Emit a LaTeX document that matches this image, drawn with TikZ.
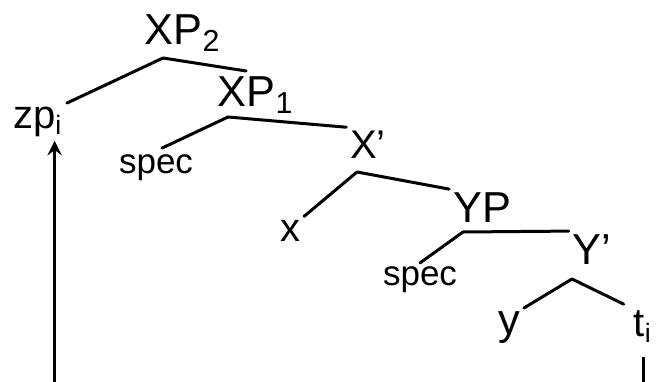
\documentclass[tikz,border=0pt]{standalone}
\usepackage{fontspec}
\setmainfont{Liberation Sans}
\usepackage{tikz}
\usetikzlibrary{arrows, positioning}

\tikzset{
  big/.style={inner sep=1pt, font=\fontsize{13}{15}\selectfont},
  lab/.style={inner sep=1pt, font=\fontsize{12}{14}\selectfont},
  small/.style={inner sep=1pt, font=\fontsize{10.5}{12}\selectfont},
  branch/.style={line width=0.9pt, line cap=round},
  move/.style={line width=0.9pt, -stealth}
}

\begin{document}
\begin{tikzpicture}[x=0.3pt,y=-0.3pt]
        \useasboundingbox (0,0) rectangle (667,382);

        % labels
        \node[big] (xp2) at (183,33) {XP\textsubscript{2}};
        \node[lab] (zp) at (38,122) {zp\textsubscript{i}};
        \node[big] (xp1) at (256,95) {XP\textsubscript{1}};
        \node[small] (spec1) at (156,168) {spec};
        \node[lab] (xbar) at (368,145) {X'};
        \node[lab] (x) at (290,231) {x};
        \node[big] (yp) at (482,208) {YP};
        \node[small] (spec2) at (420,280) {spec};
        \node[big] (ybar) at (592,250) {Y'};
        \node[big] (y) at (509,328) {y};
        \node[lab] (t) at (643,327) {t\textsubscript{i}};

        % branching points
        \coordinate (b-xp2) at (163,58);
        \coordinate (b-xp1) at (228,117);
        \coordinate (b-xbar) at (357,172);
        \coordinate (b-yp) at (463,232);
        \coordinate (b-ybar) at (572,279);
        \coordinate (low) at (0,383.5);

        \draw[branch] (b-xp2) -- (zp.north east);
        \draw[branch, shorten >=3pt] (b-xp2) -- (xp1.north);
        \draw[branch, shorten >=2pt] (b-xp1) -- (spec1.north);
        \draw[branch] (b-xp1) -- (xbar.north west);
        \draw[branch] (b-xbar) -- (x.north east);
        \draw[branch] (b-xbar) -- (yp.north west);
        \draw[branch] (b-yp) -- (spec2.north);
        \draw[branch] (b-yp) -- (ybar.north west);
        \draw[branch] (b-ybar) -- (y.north east);
        \draw[branch, shorten >=2pt] (b-ybar) -- (t.north west);

        % movement
        \draw[move, shorten <=3pt] (t.south) -- (t.south |- low) -| ([xshift=5pt]zp.south);
    \end{tikzpicture}
\end{document}
